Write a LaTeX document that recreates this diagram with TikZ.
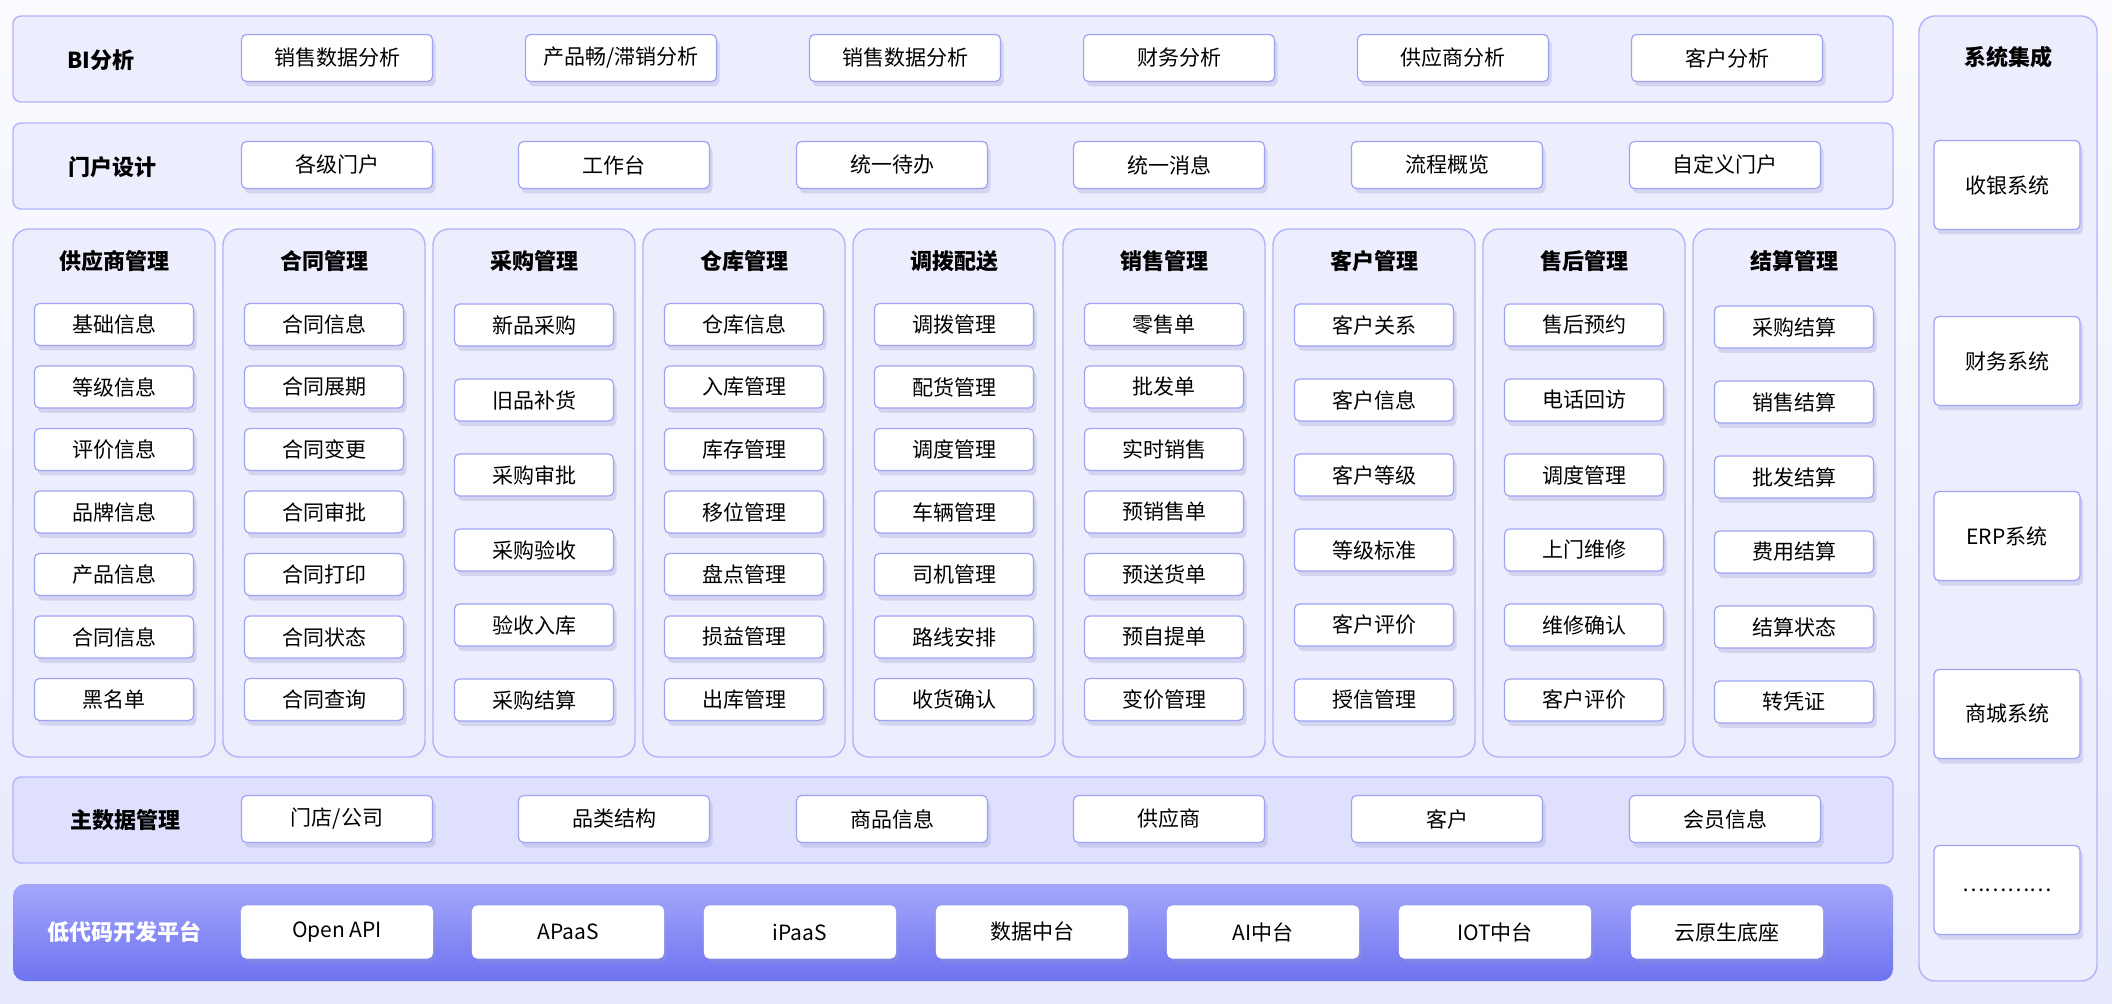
\documentclass[tikz,border=0pt]{standalone}
\usepackage{fontspec}
\setmainfont{Noto Sans CJK SC}
\usetikzlibrary{shadows}
\definecolor{rowfill}{HTML}{EDEEFD}
\definecolor{rowline}{HTML}{B0B4F8}
\definecolor{mdfill}{HTML}{DFE0FD}
\definecolor{cellline}{HTML}{9EA3F5}
\definecolor{lcA}{HTML}{A3A7FA}
\definecolor{lcB}{HTML}{6E73F0}
\definecolor{pageA}{HTML}{FBFBFF}
\definecolor{pageB}{HTML}{E6E8FD}
\tikzset{
  rowbox/.style={draw=rowline, line width=0.7pt, fill=rowfill, rounded corners=4pt},
  cell/.style={draw=cellline, line width=0.6pt, fill=white, rounded corners=2.5pt,
    minimum width=95.5pt, minimum height=23.5pt, inner sep=0pt, font=\fontsize{10.5}{12}\selectfont,
    drop shadow={opacity=0.3, fill=cellline!70!gray, shadow xshift=1.5pt, shadow yshift=-2.5pt}},
  ccell/.style={cell, minimum width=79.5pt, minimum height=21pt},
  scell/.style={cell, minimum width=73pt, minimum height=44.5pt},
  lcell/.style={cell, draw=white, minimum height=26pt},
  rtitle/.style={font=\bfseries\fontsize{11}{12}\selectfont},
}
\begin{document}
\begin{tikzpicture}[x=0.5pt,y=-0.5pt]
\useasboundingbox (0,0) rectangle (2112,1004);
\shade[top color=pageA, bottom color=pageB] (0,0) rectangle (2112,1004);
% BI row
\draw[rowbox] (13,16) rectangle (1893,102);
\node[rtitle] (bit) at (101,60) {BI分析};
\foreach \x/\t [count=\i] in {337/销售数据分析,621/{产品畅/滞销分析},905/销售数据分析,1179/财务分析,1453/供应商分析,1727/客户分析}
  \node[cell] (bi\i) at (\x,58) {\t};
% portal row
\draw[rowbox] (13,123) rectangle (1893,209);
\node[rtitle] (mht) at (112,167) {门户设计};
\foreach \x/\t [count=\i] in {337/各级门户,614/工作台,892/统一待办,1169/统一消息,1447/流程概览,1725/自定义门户}
  \node[cell] (mh\i) at (\x,165) {\t};
% columns
\foreach \c/\t [count=\k] in {0/供应商管理,1/合同管理,2/采购管理,3/仓库管理,4/调拨配送,5/销售管理,6/客户管理,7/售后管理,8/结算管理}{
  \draw[rowbox, rounded corners=8pt] (13+\c*210,229) rectangle (215+\c*210,757);
  \node[rtitle] (col\k) at (114+\c*210,261) {\t};
}
\foreach \t [count=\i] in {基础信息,等级信息,评价信息,品牌信息,产品信息,合同信息,黑名单}
  \node[ccell] (a\i) at (114,262+\i*62.5) {\t};
\foreach \t [count=\i] in {合同信息,合同展期,合同变更,合同审批,合同打印,合同状态,合同查询}
  \node[ccell] (b\i) at (324,262+\i*62.5) {\t};
\foreach \t [count=\i] in {新品采购,旧品补货,采购审批,采购验收,验收入库,采购结算}
  \node[ccell] (c\i) at (534,250+\i*75) {\t};
\foreach \t [count=\i] in {仓库信息,入库管理,库存管理,移位管理,盘点管理,损益管理,出库管理}
  \node[ccell] (d\i) at (744,262+\i*62.5) {\t};
\foreach \t [count=\i] in {调拨管理,配货管理,调度管理,车辆管理,司机管理,路线安排,收货确认}
  \node[ccell] (e\i) at (954,262+\i*62.5) {\t};
\foreach \t [count=\i] in {零售单,批发单,实时销售,预销售单,预送货单,预自提单,变价管理}
  \node[ccell] (f\i) at (1164,262+\i*62.5) {\t};
\foreach \t [count=\i] in {客户关系,客户信息,客户等级,等级标准,客户评价,授信管理}
  \node[ccell] (g\i) at (1374,250+\i*75) {\t};
\foreach \t [count=\i] in {售后预约,电话回访,调度管理,上门维修,维修确认,客户评价}
  \node[ccell] (h\i) at (1584,250+\i*75) {\t};
\foreach \t [count=\i] in {采购结算,销售结算,批发结算,费用结算,结算状态,转凭证}
  \node[ccell] (k\i) at (1794,252+\i*75) {\t};
% master data
\draw[rowbox, fill=mdfill] (13,777) rectangle (1893,863);
\node[rtitle] (mdt) at (125,820) {主数据管理};
\foreach \x/\t [count=\i] in {337/{门店/公司},614/品类结构,892/商品信息,1169/供应商,1447/客户,1725/会员信息}
  \node[cell] (md\i) at (\x,819) {\t};
% low code
\shade[top color=lcA, bottom color=lcB, rounded corners=6pt] (13,884) rectangle (1893,981);
\node[rtitle, text=white] (lct) at (124,932) {低代码开发平台};
\foreach \x/\t [count=\i] in {337/Open API,568/APaaS,800/iPaaS,1032/数据中台,1263/AI中台,1495/IOT中台,1727/云原生底座}
  \node[lcell] (lc\i) at (\x,932) {\t};
% right column
\draw[rowbox, rounded corners=8pt] (1919,16) rectangle (2097,981);
\node[rtitle] (sit) at (2008,57) {系统集成};
\foreach \y/\t [count=\i] in {185/收银系统,361/财务系统,536/ERP系统,714/商城系统,890/…………}
  \node[scell] (s\i) at (2007,\y) {\t};
\end{tikzpicture}
\end{document}
